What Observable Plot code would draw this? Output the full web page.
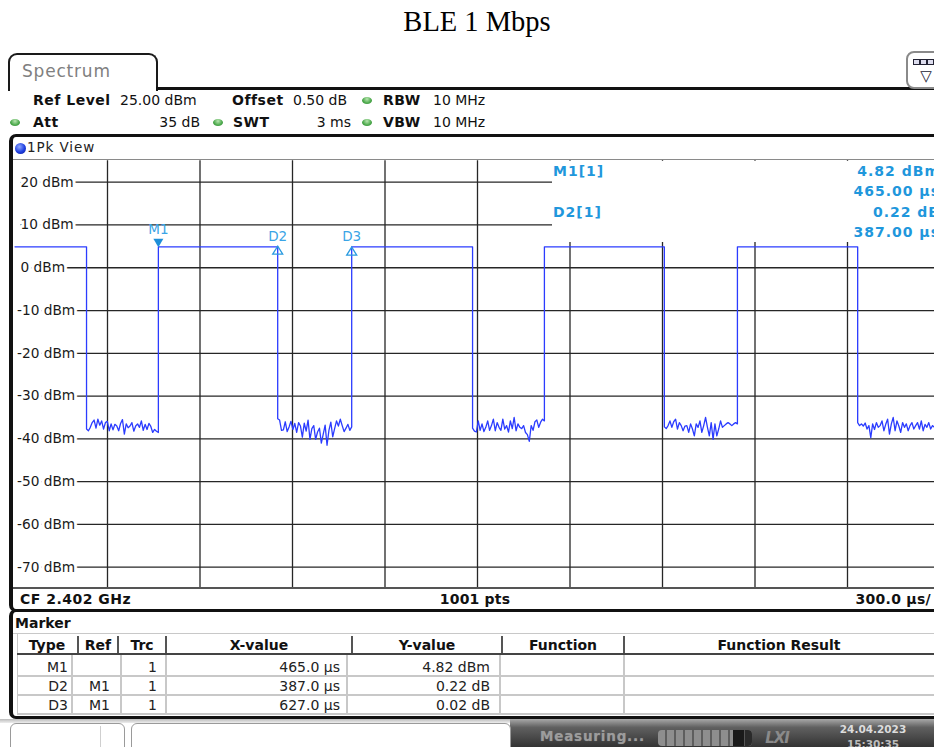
<!DOCTYPE html>
<html><head><meta charset="utf-8">
<script src="https://cdn.jsdelivr.net/npm/d3@7"></script>
<script src="https://cdn.jsdelivr.net/npm/@observablehq/plot@0.6"></script>
<style>
html,body{margin:0;padding:0;background:#fff;}
#root{position:relative;width:934px;height:747px;overflow:hidden;font-family:"DejaVu Sans",Verdana,sans-serif;color:#111;background:#fff;}
</style>
</head><body><div id="root"></div>
<script>
// ---------- data ----------
const titleText = "BLE 1 Mbps";
const sweepUs = 3000;                 // 10 div x 300 µs
const refLevel = 25, bottomLevel = -75;
const yTicks = [20, 10, 0, -10, -20, -30, -40, -50, -60, -70];
const xGrid = [300, 600, 900, 1200, 1500, 1800, 2100, 2400, 2700];
const highLevel = 4.9;                // burst level (dBm)
const fallTimes = [232, 852, 1484, 2106, 2733];   // µs
const riseTimes = [465, 1092, 1717, 2343, 3000];  // µs (last: sweep end)
const noise1 = [-37.7,-38.1,-37.3,-36.2,-35.6,-37.5,-35.4,-36.8,-35.8,-37.7,-36.2,-35.9,-38.1,-36.5,-37.9,-36.6,-37.0,-38.1,-36.4,-35.5,-38.9,-36.5,-37.4,-37.0,-36.2,-38.2,-37.0,-36.5,-37.3,-35.8,-38.0,-36.6,-37.8,-36.4,-37.1,-38.5,-37.8,-38.2,-38.5];
const noise2 = [-35.3,-35.6,-38.0,-37.9,-36.0,-38.3,-37.2,-35.9,-37.8,-36.4,-38.5,-36.2,-37.0,-39.6,-36.3,-38.2,-35.6,-40.1,-37.6,-36.9,-40.1,-38.4,-37.5,-41.0,-38.9,-36.8,-41.5,-38.0,-36.1,-39.5,-37.6,-35.8,-37.0,-35.4,-36.9,-38.3,-37.5,-36.6,-38.0,-37.2];
const noise3 = [-37.5,-38.2,-38.4,-35.8,-38.0,-36.5,-38.3,-37.3,-35.8,-38.0,-36.9,-35.4,-38.1,-36.2,-37.3,-38.0,-35.4,-37.7,-36.9,-38.4,-35.8,-37.6,-35.0,-38.1,-36.5,-37.3,-37.6,-36.9,-38.5,-39.0,-40.6,-36.9,-38.0,-36.0,-35.6,-37.3,-36.1,-35.4,-35.8];
const noise4 = [-37.2,-37.6,-36.9,-35.8,-37.3,-36.0,-35.4,-37.7,-36.2,-36.9,-38.1,-37.0,-36.9,-38.5,-36.5,-37.7,-39.3,-36.5,-37.3,-35.8,-38.5,-36.9,-35.0,-37.3,-39.3,-36.2,-40.1,-36.5,-39.3,-37.7,-35.8,-37.3,-36.9,-36.5,-36.2,-36.5,-36.9,-36.5,-36.2,-36.5];
const noise5 = [-36.2,-36.9,-36.5,-37.0,-36.3,-37.7,-36.9,-39.7,-36.5,-37.8,-36.2,-37.3,-36.9,-35.8,-38.1,-36.6,-35.4,-38.9,-36.5,-35.0,-38.1,-35.8,-37.0,-38.5,-36.2,-37.3,-36.5,-38.1,-36.9,-36.2,-37.7,-36.9,-36.2,-37.7,-35.8,-38.1,-36.6,-37.3,-36.2,-37.7,-36.9,-37.3,-36.2,-37.8,-36.8];
const noiseSets = [noise1, noise2, noise3, noise4, noise5];

const markerNames = ["M1", "D2", "D3"];
const markerRef = ["", "M1", "M1"];
const markerTrc = ["1", "1", "1"];
const markerXus = [465.0, 387.0, 627.0];       // M1 absolute, D2/D3 relative to M1
const markerYdb = [4.82, 0.22, 0.02];          // M1 dBm, D2/D3 dB relative
const markerXText = ["465.0 µs", "387.0 µs", "627.0 µs"];
const markerYText = ["4.82 dBm", "0.22 dB", "0.02 dB"];

// ---------- trace ----------
const trace = [{t: 0, v: highLevel}];
fallTimes.forEach((fall, i) => {
  const rise = riseTimes[i], vals = noiseSets[i];
  trace.push({t: fall, v: highLevel});
  vals.forEach((v, j) => trace.push({t: fall + (rise - fall) * j / (vals.length - 1), v}));
  if (rise < sweepUs) trace.push({t: rise, v: highLevel});
});
const markers = markerNames.map((n, i) => ({
  n,
  t: i === 0 ? markerXus[0] : markerXus[0] + markerXus[i],
  v: i === 0 ? markerYdb[0] : markerYdb[0] + markerYdb[i],
  delta: i > 0
}));

// ---------- helpers ----------
const root = document.getElementById("root");
function el(css, text) {
  const d = document.createElement("div");
  d.style.cssText = "position:absolute;box-sizing:border-box;" + css;
  if (text != null) d.textContent = text;
  root.appendChild(d); return d;
}
function txt(s, x, y, o = {}) {
  const a = o.anchor || "start";
  const tx = a === "start" ? "0" : a === "middle" ? "-50%" : "-100%";
  return el(`left:${x}px;top:${y}px;transform:translate(${tx},-50%);white-space:nowrap;line-height:1;` +
    `font-size:${o.size || 14}px;font-weight:${o.weight || "normal"};color:${o.color || "#111"};` +
    `letter-spacing:${o.ls || 0}px;${o.family ? `font-family:${o.family};` : ""}${o.css || ""}`, s);
}
const greenDot = (x, y) => el(`left:${x - 5}px;top:${y - 3.5}px;width:10px;height:7px;border-radius:50%;background:radial-gradient(ellipse at 50% 30%,#b8e6b0,#4aa84a 60%,#2f7f2f);`);

// ---------- title ----------
txt(titleText, 477, 22, {anchor: "middle", size: 28.5, family: '"Liberation Serif","Times New Roman",serif', color: "#000"});

// ---------- tab & header ----------
el(`left:8px;top:53px;width:150px;height:38px;border:2px solid #1a1a1a;border-bottom:none;border-radius:9px 9px 0 0;background:#fff;`);
txt("Spectrum", 22, 71, {size: 17, color: "#808080", ls: 0.8});
el(`left:156px;top:87px;width:790px;height:3px;background:#111;`);
// icon box top right
el(`left:906px;top:51px;width:40px;height:38px;border:2px solid #8a8a8a;border-radius:8px;background:#fff;`);
el(`left:913px;top:59px;width:7px;height:6px;border:1.5px solid #223;background:#dde;`);
el(`left:920px;top:59px;width:7px;height:6px;border:1.5px solid #223;background:#dde;`);
el(`left:927px;top:59px;width:7px;height:6px;border:1.5px solid #223;background:#dde;`);
txt("▽", 926, 76, {anchor: "middle", size: 15, color: "#223"});

// settings rows
const B = {weight: "bold", ls: 0.5};
txt("Ref Level", 33, 100, B); txt("25.00 dBm", 120, 100);
txt("Offset", 232, 100, B); txt("0.50 dB", 293, 100);
greenDot(367, 100); txt("RBW", 383, 100, B); txt("10 MHz", 433, 100);
greenDot(15, 122); txt("Att", 33, 122, B); txt("35 dB", 200, 122, {anchor: "end"});
greenDot(218, 122); txt("SWT", 233, 122, B); txt("3 ms", 351, 122, {anchor: "end"});
greenDot(367, 122); txt("VBW", 383, 122, B); txt("10 MHz", 433, 122);

// view box
el(`left:9px;top:134px;width:960px;height:478px;border:3px solid #111;border-left-width:4px;border-radius:7px;`);
el(`left:15px;top:142.5px;width:11px;height:11px;border-radius:50%;background:radial-gradient(circle at 40% 35%,#8fa8ff,#1f3fe0 55%,#0a1a90);`);
txt("1Pk View", 27, 148, {size: 13.5, ls: 0.9, color: "#222"});
el(`left:13px;top:158.5px;width:930px;height:1.5px;background:#8a8a8a;`);

// ---------- plot ----------
const triDown = {draw(c) { c.moveTo(-5, -8.5); c.lineTo(5, -8.5); c.lineTo(0, 0); c.closePath(); }};
const triUp = {draw(c) { c.moveTo(0, 0); c.lineTo(5, 8); c.lineTo(-5, 8); c.closePath(); }};
const font = '"DejaVu Sans", Verdana, sans-serif';
const svg = Plot.plot({
  width: 950, height: 448,
  marginLeft: 14.5, marginRight: 10.5, marginTop: 10.3, marginBottom: 9.9,
  x: {domain: [0, sweepUs], axis: null},
  y: {domain: [bottomLevel, refLevel], axis: null},
  style: {background: "transparent", maxWidth: "none", overflow: "visible", fontFamily: font},
  marks: [
    Plot.ruleX(xGrid, {stroke: "#262626", strokeWidth: 1.3}),
    Plot.ruleY(yTicks, {stroke: "#262626", strokeWidth: 1.3, insetLeft: 6}),
    Plot.text(yTicks.filter(d => d >= 0), {x: 0, y: d => d, text: d => `${d} dBm`, textAnchor: "start", dx: 5.5,
      fill: "#1a1a1a", stroke: "white", strokeWidth: 6, fontSize: 13.7, fontFamily: font}),
    Plot.text(yTicks.filter(d => d < 0), {x: 0, y: d => d, text: d => `${d} dBm`, textAnchor: "start", dx: 2,
      fill: "#1a1a1a", stroke: "white", strokeWidth: 6, fontSize: 13.7, fontFamily: font}),
    Plot.line(trace, {x: "t", y: "v", stroke: "#2b3cff", strokeWidth: 1.3}),
    Plot.dot(markers.filter(m => !m.delta), {x: "t", y: "v", symbol: triDown, r: 4, fill: "#1e8fd8", stroke: "none"}),
    Plot.dot(markers.filter(m => m.delta), {x: "t", y: "v", symbol: triUp, r: 4, fill: "none", stroke: "#2a9be0", strokeWidth: 1.3}),
    Plot.text(markers.filter(m => !m.delta), {x: "t", y: "v", text: "n", dy: -17, fill: "#3aa4e6", fontSize: 13.5, fontFamily: font}),
    Plot.text(markers.filter(m => m.delta), {x: "t", y: "v", text: "n", dy: -10, fill: "#3aa4e6", fontSize: 13.5, fontFamily: font})
  ]
});
svg.style.position = "absolute";
svg.style.left = "0px";
svg.style.top = "150px";
root.appendChild(svg);

// marker info box (covers grid)
el(`left:552px;top:160.5px;width:400px;height:81px;background:#fff;`);
const MB = {weight: "bold", color: "#1f97dc", ls: 1};
txt(`${markerNames[0]}[1]`, 553, 171, MB);
txt(`${markerYdb[0].toFixed(2)} dBm`, 940, 171, {...MB, anchor: "end"});
txt(`${markerXus[0].toFixed(2)} µs`, 940, 191, {...MB, anchor: "end"});
txt(`${markerNames[1]}[1]`, 553, 212, MB);
txt(`${markerYdb[1].toFixed(2)} dB`, 940, 212, {...MB, anchor: "end"});
txt(`${markerXus[1].toFixed(2)} µs`, 940, 232, {...MB, anchor: "end"});

// bottom plot bar
el(`left:13px;top:587px;width:930px;height:2px;background:#555;`);
txt("CF 2.402 GHz", 20, 599, {weight: "bold", ls: 0.5});
txt("1001 pts", 475, 599, {weight: "bold", anchor: "middle", ls: 0.2});
txt("300.0 µs/", 931, 599, {weight: "bold", anchor: "end", ls: 0.3});

// ---------- marker table ----------
el(`left:9px;top:609px;width:960px;height:110px;border:3px solid #111;border-left-width:4px;border-radius:7px;`);
txt("Marker", 15, 623, {weight: "bold"});
el(`left:13px;top:632.5px;width:930px;height:1.5px;background:#c8c8c8;`);
el(`left:16.5px;top:634px;width:1.5px;height:80px;background:#c8c8c8;`);
const hdrSep = [78, 118, 166, 352, 502, 624];
hdrSep.forEach(x => el(`left:${x - 1}px;top:636px;width:2px;height:18px;background:#555;`));
el(`left:17px;top:653px;width:930px;height:2px;background:#444;`);
const hdr = [["Type", 47], ["Ref", 98], ["Trc", 142], ["X-value", 259], ["Y-value", 427], ["Function", 563], ["Function Result", 779]];
hdr.forEach(([s, x]) => txt(s, x, 644.5, {weight: "bold", anchor: "middle"}));
const rowY = [667, 686, 705];
[676, 695, 714].forEach(y => el(`left:17px;top:${y - 0.75}px;width:930px;height:1.5px;background:#c8c8c8;`));
const dataSep = [72, 121, 166, 347, 500, 624];
dataSep.forEach(x => el(`left:${x - 0.75}px;top:655px;width:1.5px;height:59px;background:#c8c8c8;`));
markerNames.forEach((n, i) => {
  const y = rowY[i];
  txt(n, 68, y, {anchor: "end", color: "#222"});
  if (markerRef[i]) txt(markerRef[i], 110, y, {anchor: "end", color: "#222"});
  txt(markerTrc[i], 157, y, {anchor: "end", color: "#222"});
  txt(markerXText[i], 340, y, {anchor: "end", color: "#222"});
  txt(markerYText[i], 490, y, {anchor: "end", color: "#222"});
});

// ---------- status bar ----------
el(`left:0px;top:719px;width:934px;height:4px;background:linear-gradient(#bbb,#eee);`);
el(`left:510px;top:719px;width:424px;height:28px;background:linear-gradient(#a8a8a8,#606060 30%,#333 100%);`);
el(`left:10px;top:723px;width:115px;height:30px;border:1.5px solid #9a9a9a;border-radius:6px 6px 0 0;background:#fff;`);
el(`left:100px;top:726px;width:1px;height:21px;background:#cfcfcf;`);
el(`left:131px;top:723px;width:380px;height:30px;border:1.5px solid #9a9a9a;border-radius:6px 6px 0 0;background:#fff;`);
txt("Measuring...", 540, 737, {weight: "bold", color: "#9c9c9c", size: 13.5, ls: 0.8, css: "text-shadow:0 0 1px #777;"});
el(`left:658px;top:730px;width:94px;height:16px;border-radius:4px;overflow:hidden;background:repeating-linear-gradient(to right,#8e8e8e 0 7px,#5e5e5e 7px 9px);`);
el(`left:733px;top:730px;width:19px;height:16px;border-radius:0 4px 4px 0;background:linear-gradient(to right,#1a1a1a 0 11px,#555 11px 12.5px,#2a2a2a 12.5px);`);
txt("LXI", 777, 738, {anchor: "middle", weight: "bold", color: "#8a8a8a", size: 15, css: "font-style:italic;letter-spacing:-1px;"});
txt("24.04.2023", 873, 729, {anchor: "middle", weight: "bold", color: "#dcdcdc", size: 10.5});
txt("15:30:35", 873, 744, {anchor: "middle", weight: "bold", color: "#bdbdbd", size: 10.5});
</script>
</body></html>
